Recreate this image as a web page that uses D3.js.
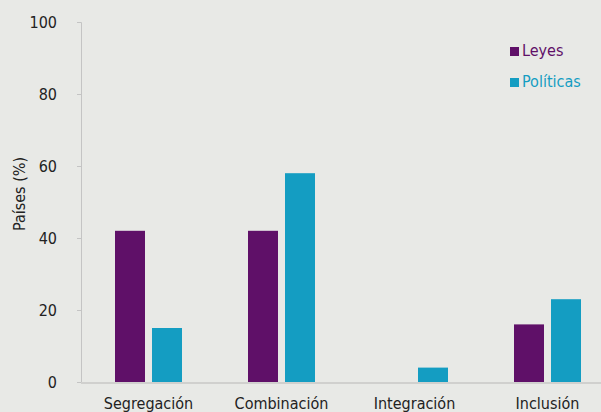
<!DOCTYPE html>
<html>
<head>
<meta charset="utf-8">
<script src="https://cdn.jsdelivr.net/npm/d3@7"></script>
<style>
  body { margin: 0; background: #e8e9e6; }
  svg { display: block; }
  text { font-family: "DejaVu Sans Condensed", "DejaVu Sans", sans-serif; }
</style>
</head>
<body>
<div id="chart"></div>
<script>
// data
const categories = ['Segregación', 'Combinación', 'Integración', 'Inclusión'];
const seriesNames = ['Leyes', 'Políticas'];
const leyes = [42, 42, 0, 16];
const politicas = [15, 58, 4, 23];
const yTicks = [0, 20, 40, 60, 80, 100];
const colors = ['#5f1068', '#149dc2'];

const width = 601, height = 412;
const margin = { top: 22, left: 81, bottom: 30 };

const svg = d3.select('#chart').append('svg')
  .attr('width', width)
  .attr('height', height);

const y = d3.scaleLinear()
  .domain([0, 100])
  .range([382, 22]);

// outer band runs off the right edge like the original
const x0 = d3.scaleBand()
  .domain(categories)
  .range([82, 614])
  .paddingInner(0)
  .paddingOuter(0);

const x1 = d3.scaleBand()
  .domain(seriesNames)
  .range([x0.bandwidth() / 2 - 33.5, x0.bandwidth() / 2 + 33.5])
  .paddingInner(7 / 37)
  .paddingOuter(0);

// y axis
const yAxis = svg.append('g')
  .attr('transform', 'translate(' + margin.left + ',0)')
  .call(d3.axisLeft(y).tickValues(yTicks).tickSize(4).tickPadding(20));
yAxis.select('.domain').attr('stroke', '#c4c4c4');
yAxis.selectAll('.tick line').attr('stroke', '#c4c4c4');
yAxis.selectAll('.tick text')
  .attr('fill', '#222')
  .attr('font-size', 16);

// x axis
const xAxis = svg.append('g')
  .attr('transform', 'translate(0,' + y(0) + ')')
  .call(d3.axisBottom(x0).tickSize(0).tickPadding(16));
xAxis.select('.domain').remove();
svg.append('line')
  .attr('x1', margin.left).attr('x2', width)
  .attr('y1', y(0) + 1).attr('y2', y(0) + 1)
  .attr('stroke', '#d0d0ce').attr('stroke-width', 2);
xAxis.selectAll('.tick text')
  .attr('fill', '#222')
  .attr('font-size', 16);

// bars
const rows = categories.map((c, i) => ({ cat: c, values: [leyes[i], politicas[i]] }));
const groups = svg.selectAll('.grp')
  .data(rows)
  .enter().append('g')
  .attr('class', 'grp')
  .attr('transform', d => 'translate(' + x0(d.cat) + ',0)');

groups.selectAll('rect')
  .data(d => d.values.map((v, j) => ({ key: seriesNames[j], v: v, j: j })))
  .enter().append('rect')
  .filter(d => d.v > 0)
  .attr('x', d => x1(d.key))
  .attr('width', x1.bandwidth())
  .attr('y', d => y(d.v))
  .attr('height', d => y(0) - y(d.v))
  .attr('fill', d => colors[d.j]);

// y label
svg.append('text')
  .attr('transform', 'translate(25,194) rotate(-90)')
  .attr('text-anchor', 'middle')
  .attr('font-size', 16)
  .attr('fill', '#222')
  .text('Países  (%)');

// legend
const legend = svg.selectAll('.leg')
  .data(seriesNames)
  .enter().append('g')
  .attr('class', 'leg')
  .attr('transform', (d, i) => 'translate(510,' + (47 + i * 31) + ')');
legend.append('rect')
  .attr('width', 9).attr('height', 9)
  .attr('fill', (d, i) => colors[i]);
legend.append('text')
  .attr('x', 12).attr('y', 9)
  .attr('font-size', 16)
  .attr('fill', (d, i) => colors[i])
  .text(d => d);
</script>
</body>
</html>
